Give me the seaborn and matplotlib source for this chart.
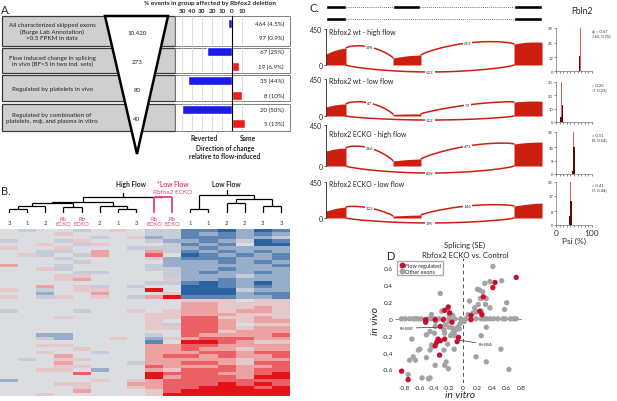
import numpy as np
import pandas as pd
import matplotlib
matplotlib.use("Agg")
import matplotlib.pyplot as plt
import seaborn as sns
from matplotlib.patches import Rectangle, Polygon
from matplotlib.colors import LinearSegmentedColormap
from matplotlib.lines import Line2D

sns.set_theme(style="white")
plt.rcParams['font.family'] = ['Lato', 'DejaVu Sans']

# ------------------------------------------------------------------ data
# Panel A
row_texts = ["All characterized skipped exons\n(Burge Lab Annotation)\n>0.5 FPKM in data",
             "Flow induced change in splicing\nin vivo (BF>5 in two ind. sets)",
             "Regulated by platelets in vivo",
             "Regulated by combination of\nplatelets, m\u03d5, and plasma in vitro"]
group_sizes = ["10,420", "273", "80", "40"]
reverted_pct = [4.5, 25, 44, 50]
same_pct = [0.9, 6.9, 10, 13]
reverted_n = [464, 67, 35, 20]
same_n = [97, 19, 8, 5]
pct_ticks = [-50, -40, -30, -20, -10, 0, 10]
pct_tick_labels = ["50", "40", "30", "20", "10", "0", "10"]

# Panel B
col_labels = ["3", "1", "2", "Rb\nECKO", "Rb\nECKO", "2", "1", "3",
              "Rb\nECKO", "Rb\nECKO", "1", "1", "2", "2", "3", "3"]
# merges: (left node, right node, height); new nodes numbered from 16
dendro_merges = [(0, 1, 4), (16, 2, 7), (3, 4, 6), (17, 18, 10), (6, 7, 4), (5, 20, 7),
                 (19, 21, 11), (8, 9, 16), (22, 23, 16), (10, 11, 4), (12, 13, 10),
                 (14, 15, 7), (26, 27, 14), (25, 28, 18)]
dendro_pink_nodes = [23]
dendro_stub_top = {24: 20, 29: 23}
heat_levels = [
    [0, -1, 0, 0, -1, 0, 1, 0, -1, -1, -3, -3, -4, -2, -4, -3],
    [0, 0, 0, 1, 0, 0, 0, 0, -1, -1, -3, -2, -3, -2, -3, -2],
    [0, 0, 0, 0, 0, -1, 0, 1, -2, -1, -3, -3, -3, -2, -2, -1],
    [-1, 0, 0, -1, 1, 0, 0, 0, -1, -2, -2, -3, -2, -1, -4, -3],
    [0, 0, 1, 0, -1, 1, 0, 0, 0, -1, -3, -2, -3, 0, -4, -4],
    [1, 0, 0, 1, 0, 0, 0, -1, -1, -1, -2, -3, -2, -2, -2, -2],
    [0, 0, -1, -1, 0, 2, 0, 0, 2, -1, -3, -2, -3, -2, -3, -2],
    [0, 1, -1, 0, -1, 2, 0, 0, 3, 0, -4, -3, -2, -3, -2, -3],
    [0, 0, 0, -1, 0, 0, 0, 0, 1, -2, -3, -3, -3, -2, -2, -3],
    [0, 0, 0, 0, -1, 0, 0, 0, 0, -2, -2, -2, -3, -2, -3, -2],
    [2, 0, 0, -1, 0, 0, 0, 0, -1, -2, -2, -2, -2, -2, -2, -3],
    [0, 0, 1, -1, 0, 0, 0, 0, -1, -1, -2, -2, -3, -2, -2, -2],
    [0, 0, 0, 0, -1, -1, 0, 0, 0, -1, -2, -3, -2, -2, -3, -2],
    [0, 0, 0, 1, 1, 0, 0, 0, 0, -1, -2, -2, -2, -1, -2, -2],
    [0, 0, 0, 1, 2, 0, 0, 0, 0, 1, -2, -2, -3, -2, -2, -2],
    [0, 0, 0, 0, 0, 0, 0, 0, -1, -1, -3, -4, -3, -2, -4, -2],
    [0, 0, 2, 0, 1, -1, 0, -1, 0, 0, -4, -4, -3, -2, -3, -2],
    [1, 0, -1, 0, 1, 1, 0, 0, 4, 0, -4, -4, -4, -1, -2, -2],
    [0, 0, -2, 0, 0, 2, 0, 0, 0, 1, -4, -4, -4, -2, -3, -3],
    [1, 0, -1, 1, 0, 1, 0, -1, 2, 4, -3, -3, -3, -2, -2, -3],
    [0, 0, 0, 0, 0, 0, 0, 0, 0, 0, 1, 1, 1, 0, 1, 1],
    [0, 0, 0, 0, 0, 0, 0, 0, 0, 0, 2, 2, 1, 1, 1, 1],
    [0, 0, 0, 0, 0, 0, 0, 0, 0, 0, 2, 2, 1, 1, 2, 1],
    [-1, 0, 0, 0, -1, 0, 0, 1, 0, 1, 2, 2, 1, 2, 2, 1],
    [0, 0, 0, 0, 0, 0, 0, 0, 1, 1, 2, 2, 2, 1, 1, 1],
    [0, 0, 0, 1, 0, 0, 0, 0, 1, 1, 3, 3, 1, 1, 2, 1],
    [0, 0, 0, 0, 0, 0, 0, 0, 1, 0, 3, 3, 2, 1, 2, 2],
    [0, 0, 0, 0, 0, 0, 0, 0, 1, -1, 3, 3, 2, 0, 1, 1],
    [0, 0, 0, 0, 0, 0, 0, 0, 1, 1, 3, 3, 2, 1, 2, 2],
    [0, 0, 0, 0, 0, 0, 0, 0, 0, 0, 3, 3, 1, 2, 2, 2],
    [0, 0, -2, -2, 0, 0, 0, 0, -1, 0, 3, 2, 2, 2, 2, 3],
    [0, 0, -1, -2, 0, 0, 1, 0, -2, 1, 2, 3, 3, 3, 2, 2],
    [0, 0, 0, 0, 0, 0, 0, 0, -3, 0, 4, 4, 3, 2, 1, 1],
    [0, 0, 1, 1, 0, 0, 0, 0, 2, 2, 3, 3, 2, 2, 2, 2],
    [0, 0, 0, 0, 1, 0, 0, 0, 2, 2, 3, 2, 2, 1, 2, 2],
    [0, 0, 1, 0, 0, -1, 0, 0, 2, 2, 2, 3, 3, 2, 3, 3],
    [0, 0, 0, 2, 0, 0, 0, 0, 2, 3, 3, 2, 3, 2, 2, 3],
    [0, -1, 0, 1, 1, 0, 0, 0, 2, 2, 2, 2, 2, 1, 2, 2],
    [0, 0, 0, 2, 0, 0, 0, -1, 2, 2, 3, 3, 2, 1, 3, 3],
    [0, 0, 0, 1, 1, 0, 0, 0, 3, 2, 2, 2, 3, 2, 2, 3],
    [0, 0, 1, 1, 0, -2, 0, 0, 2, 1, 3, 3, 3, 2, 3, 3],
    [0, 0, 0, 0, 3, 0, 0, 0, 4, 3, 3, 3, 2, 2, 3, 4],
    [0, 0, 0, 0, 0, 0, 0, 0, 4, 2, 3, 3, 3, 2, 4, 4],
    [-2, 0, 0, 0, 0, 1, 0, 1, 2, 3, 3, 3, 3, 3, 3, 3],
    [0, 0, 0, 1, 1, 0, 0, 2, 2, 3, 3, 3, 4, 3, 4, 3],
    [0, 0, 0, 0, 1, 0, 0, 1, 2, 3, 3, 4, 4, 4, 3, 4],
    [0, 0, 0, 0, 2, 0, 0, 0, 1, 3, 4, 4, 4, 4, 4, 4],
    [0, 0, 1, 0, 0, 0, 0, 0, 1, 4, 4, 4, 4, 4, 4, 4],
]

# Panel C
iso_exons = [[(0, 20), (67, 94), (188, 216)], [(0, 20), (188, 216)]]
cov_exons = [(0, 20), (67, 95), (188, 216)]
sample_names = ["Rbfox2 wt - high flow", "Rbfox2 wt - low flow",
                "Rbfox2 ECKO - high flow", "Rbfox2 ECKO - low flow"]
cov_e1 = [[137, 160, 180, 195, 205, 212], [110, 122, 133, 140, 145, 146],
          [165, 175, 185, 192, 196, 198], [87, 100, 115, 125, 132, 137]]
cov_e2 = [[87, 100, 110, 118, 122, 125], [20, 22, 24, 25, 26, 26],
          [55, 62, 68, 72, 75, 77], [25, 28, 31, 34, 36, 37]]
cov_e3 = [[262, 275, 283, 287, 287, 285], [170, 175, 180, 182, 182, 180],
          [241, 250, 256, 260, 263, 262], [150, 160, 170, 178, 184, 187]]
junc_12 = [398, 47, 366, 122]
junc_23 = [619, 70, 472, 146]
junc_13 = [523, 522, 809, 395]
arc12_peak = [225, 158, 197, 125]
arc23_peak = [275, 134, 219, 150]
arc13_trough = [-87, -49, -77, -62]
psi_text = ["\u03c8 = 0.67\n[0.65, 0.70]", "\u03c8 = 0.20\n[0.17, 0.23]",
            "\u03c8 = 0.51\n[0.49, 0.54]", "\u03c8 = 0.41\n[0.37, 0.44]"]
hist_yticks = [[0, 12, 25, 38], [0, 10, 20, 30], [0, 9, 18, 28], [0, 8, 17, 25]]
light_psi = [67, 17, 49, 41]
light_count = [38, 30, 28, 25]
dark_psi = [[64, 67], [14, 18], [46, 49], [38, 42]]
dark_count = [[3, 10], [4, 13], [2, 18], [5, 14]]

# Panel D
flow_x = [0.73, 0.44, 0.41, 0.28, 0.23, 0.26, 0.11, 0.11, -0.20, -0.25, -0.18, -0.15, -0.27,
          -0.38, -0.51, -0.51, -0.31, -0.06, -0.08, -0.34, -0.31, -0.36, -0.25, -0.38, -0.32,
          -0.84, -0.75]
flow_y = [0.49, 0.43, 0.37, 0.26, 0.09, 0.05, 0.04, -0.01, 0.14, 0.10, 0.07, -0.04, -0.01,
          -0.01, -0.01, -0.04, -0.09, -0.22, -0.27, -0.24, -0.26, -0.28, -0.24, -0.32, -0.43,
          -0.62, -0.72]
other_x = [-0.84, -0.79, -0.73, -0.68, -0.65, -0.61, -0.57, -0.47, -0.43, -0.38, -0.33, -0.26,
           -0.19, -0.11, -0.03, 0.04, 0.11, 0.18, 0.25, 0.29, 0.32, 0.37, 0.42, 0.48, 0.55,
           0.58, 0.65, 0.70, 0.73,
           0.41, 0.53, 0.37, 0.30, 0.20, 0.23, 0.27, 0.24, 0.32, 0.09, 0.31, 0.21, 0.37, 0.16,
           0.60, 0.57, 0.18, 0.25, 0.14, 0.07,
           -0.31, -0.21, -0.19, -0.29, -0.14, -0.43,
           -0.70, -0.73, -0.65, -0.61, -0.59, -0.68, -0.50, -0.50, -0.45, -0.39, -0.38, -0.37,
           -0.43, -0.45, -0.42, -0.38, -0.23, -0.25, -0.20, -0.45, -0.56, -0.47, -0.75, -0.26,
           -0.12, -0.21, -0.25, -0.26, -0.19, -0.14, -0.12, -0.14, -0.10, -0.07, -0.05, -0.17,
           -0.11, -0.04, -0.01, 0.02, -0.19, -0.24,
           0.18, 0.32, 0.52, 0.63, 0.25, 0.32]
other_y = [0.0, 0.0, 0.0, 0.0, 0.0, 0.0, 0.0, 0.0, 0.0, 0.0, 0.0, 0.0,
           0.0, 0.0, 0.0, 0.0, 0.0, 0.0, 0.0, 0.0, 0.0, 0.0, 0.0, 0.0, 0.0,
           0.0, 0.0, 0.0, 0.0,
           0.62, 0.45, 0.44, 0.42, 0.35, 0.34, 0.32, 0.24, 0.24, 0.21, 0.17, 0.17, 0.13, 0.13,
           0.19, 0.11, 0.08, 0.09, 0.07, 0.05,
           0.30, 0.11, 0.05, 0.09, 0.04, 0.05,
           -0.24, -0.49, -0.49, -0.37, -0.36, -0.45, -0.46, -0.19, -0.15, -0.17, -0.09, -0.03,
           -0.31, -0.37, -0.33, -0.55, -0.51, -0.55, -0.59, -0.70, -0.70, -0.71, -0.66, -0.37,
           -0.36, -0.30, -0.17, -0.13, -0.10, -0.11, -0.15, -0.17, -0.13, -0.10, -0.12, -0.20,
           -0.20, -0.06, -0.03, -0.03, -0.03, -0.07,
           -0.45, -0.51, -0.36, -0.60, -0.20, -0.10]
d_ticks = [-0.8, -0.6, -0.4, -0.2, 0, 0.2, 0.4, 0.6, 0.8]
d_yticks = [-0.6, -0.4, -0.2, 0, 0.2, 0.4, 0.6]

# ------------------------------------------------------------------ figure
W, H = 617, 402
fig = plt.figure(figsize=(W / 100, H / 100), dpi=100)
fig.patch.set_facecolor('white')


def px_axes(x, y, w, h):
    return fig.add_axes([x / W, 1 - (y + h) / H, w / W, h / H])


ov = px_axes(0, 0, W, H)
ov.set_xlim(0, W)
ov.set_ylim(H, 0)
ov.axis('off')

BLUE = '#1c1ce8'
RED = '#ee1c1c'
PINK = '#e4417a'

# ---------------- Panel A
ov.text(1, 10, "A.", fontsize=8, va='center', ha='left')
row_spans = [(17, 47), (49, 74), (76, 102), (105, 132)]
for (y0, y1), txt, gs in zip(row_spans, row_texts, group_sizes):
    ov.add_patch(Rectangle((2, y0), 173, y1 - y0, fc='#cfcfcf', ec='#3a3a3a', lw=0.9, zorder=1))
    ov.add_patch(Rectangle((175, y0), 115, y1 - y0, fc='white', ec='#6a6a6a', lw=0.6, zorder=1))
    ov.text(52, (y0 + y1) / 2, txt, ha='center', va='center', fontsize=4.5,
            linespacing=1.35, zorder=2, color='#222222')
ov.add_patch(Polygon([(105, 17), (168, 17), (137, 155)], closed=True, fc='white',
                     ec='black', lw=1.8, zorder=3))
for (y0, y1), gs in zip(row_spans, group_sizes):
    ov.text(137, (y0 + y1) / 2 + 1, gs, ha='center', va='center', fontsize=4.5, zorder=4,
            color='#222222')

bar_top, bar_h = 17, 115
axb = px_axes(177, bar_top, 73, bar_h)
axb.patch.set_alpha(0)
slots, vals, dirs = [], [], []
for i in range(4):
    slots += [f"r{i}", f"s{i}"]
    vals += [-reverted_pct[i], same_pct[i]]
    dirs += ["Reverted", "Same"]
bar_df = pd.DataFrame({"slot": slots, "value": vals, "direction": dirs})
sns.barplot(data=bar_df, x="value", y="slot", hue="direction",
            palette={"Reverted": BLUE, "Same": RED}, orient="h", dodge=False,
            width=0.62, ax=axb, legend=False, saturation=1)
axb.set_xlim(-55, 18)
axb.set_ylim(7.5, -0.5)
axb.set_xticks(pct_ticks)
axb.set_xticklabels(pct_tick_labels, fontsize=4.6, fontweight='bold')
axb.tick_params(axis='x', top=False, bottom=False, labeltop=True, labelbottom=False,
                length=0, pad=2)
axb.set_yticks([])
axb.set_xlabel('')
axb.set_ylabel('')
axb.xaxis.grid(True, color='#cfcfcf', lw=0.5)
axb.set_axisbelow(True)
axb.axvline(0, color='black', lw=0.8)
for s in axb.spines.values():
    s.set_visible(False)

slot_h = bar_h / 8
for i in range(4):
    yr = bar_top + (2 * i + 0.5) * slot_h
    ys = bar_top + (2 * i + 1.5) * slot_h
    ov.text(284, yr, f"{reverted_n[i]} ({reverted_pct[i]:g}%)", ha='right', va='center',
            fontsize=4.4, zorder=4, color='#222222')
    ov.text(284, ys, f"{same_n[i]} ({same_pct[i]:g}%)", ha='right', va='center',
            fontsize=4.4, zorder=4, color='#222222')

ov.text(210, 4, "% events in group affected by Rbfox2 deletion", ha='center', va='center',
        fontsize=4.6, fontweight='bold')
ov.text(204, 139, "Reverted", ha='center', va='center', fontsize=4.8, fontweight='bold')
ov.text(248, 139, "Same", ha='center', va='center', fontsize=4.8, fontweight='bold')
ov.text(225, 149, "Direction of change", ha='center', va='center', fontsize=4.8,
        fontweight='bold')
ov.text(225, 157, "relative to flow-induced", ha='center', va='center', fontsize=4.8,
        fontweight='bold')

# ---------------- Panel B
ov.text(1, 192, "B.", fontsize=8, va='center', ha='left')
hm_x, hm_y, hm_w, hm_h = 0, 230, 290, 167
ncol = len(col_labels)
axd = px_axes(hm_x, 186, hm_w, 28)
axd.set_xlim(0, ncol)
axd.set_ylim(0, 28)
axd.axis('off')
node_x = {i: i + 0.5 for i in range(ncol)}
node_h = {i: 0 for i in range(ncol)}
for k, (a, b, h) in enumerate(dendro_merges):
    nid = ncol + k
    node_x[nid] = (node_x[a] + node_x[b]) / 2
    node_h[nid] = h
    is_pink = nid in dendro_pink_nodes
    col = PINK if is_pink else 'black'
    lw = 1.3 if is_pink else 0.9
    z = 3 if is_pink else 2
    for c in (a, b):
        axd.plot([node_x[c], node_x[c]], [node_h[c], h], color=col, lw=lw, zorder=z,
                 solid_capstyle='butt')
    axd.plot([node_x[a], node_x[b]], [h, h], color=col, lw=lw, zorder=z,
             solid_capstyle='butt')
for nid, top in dendro_stub_top.items():
    axd.plot([node_x[nid], node_x[nid]], [node_h[nid], top], color='black', lw=0.9)

col_w = hm_w / ncol
for c, lab in enumerate(col_labels):
    colr = PINK if 'ECKO' in lab else '#333333'
    ov.text(hm_x + (c + 0.5) * col_w, 222 if 'ECKO' in lab else 224, lab, ha='center',
            va='center', fontsize=4.2, color=colr, linespacing=1.1)
ov.text(131, 185, "High Flow", ha='center', va='center', fontsize=4.8, fontweight='bold')
ov.text(173, 185, "*Low Flow", ha='center', va='center', fontsize=4.8, fontweight='bold',
        color=PINK)
ov.text(173, 193, "Rbfox2 ECKO", ha='center', va='center', fontsize=4.6, color=PINK)
ov.text(226, 185, "Low Flow", ha='center', va='center', fontsize=4.8, fontweight='bold')

axh = px_axes(hm_x, hm_y, hm_w, hm_h)
cmap = LinearSegmentedColormap.from_list("bgr", [
    (0.0, '#2c62a0'), (0.125, '#5d86b6'), (0.25, '#97adc9'), (0.375, '#c6cdd8'),
    (0.5, '#dcdde0'), (0.625, '#e5c9ca'), (0.75, '#eca3a4'), (0.875, '#ea6266'),
    (1.0, '#e6121a')])
sns.heatmap(np.array(heat_levels), cmap=cmap, vmin=-4, vmax=4, cbar=False,
            xticklabels=False, yticklabels=False, ax=axh)

# ---------------- Panel C
ov.text(309, 8, "C.", fontsize=8, va='center', ha='left')
ov.text(582, 12, "Fbln2", fontsize=6.2, ha='center', va='center')
CX0, CW = 326, 216
axg = px_axes(CX0, 2, CW, 24)
axg.set_xlim(0, 216)
axg.set_ylim(26, 2)
axg.axis('off')
for exons, yrow in zip(iso_exons, [8, 20]):
    axg.broken_barh([(s, e - s) for s, e in exons], (yrow - 2.0, 4.0), facecolors='black')
    for (s0, e0), (s1, e1) in zip(exons[:-1], exons[1:]):
        axg.plot([e0, s1], [yrow, yrow], ls=(0, (1, 1.5)), lw=0.6, color='#444444')

SASH_RED = '#cc1f0f'
sash_px = [(30, 66), (80, 117), (126, 167), (183, 219)]
title_y = [33, 82, 135, 185]
YLO = -110


def arc(x0, y0, x1, y1, peak, n=80):
    t = np.linspace(0, 1, n)
    base = y0 + (y1 - y0) * t
    return x0 + (x1 - x0) * t, base + (peak - (y0 + y1) / 2) * np.sin(np.pi * t) ** 0.7


for i in range(4):
    y450, y0 = sash_px[i]
    ppu = (y0 - y450) / 450.0
    ybot = y0 - YLO * ppu
    ax = px_axes(CX0, y450, CW, ybot - y450)
    ax.patch.set_alpha(0)
    ax.set_xlim(0, 216)
    ax.set_ylim(YLO, 450)
    covs = [cov_e1[i], cov_e2[i], cov_e3[i]]
    for (s, e), cv in zip(cov_exons, covs):
        xs = np.linspace(s, e, len(cv))
        ax.fill_between(xs, 0, cv, color=SASH_RED, lw=0)
    e1, e2, e3 = cov_exons
    c1, c2, c3 = covs
    xa, ya = arc(e1[1], c1[-1], e2[0], c2[0], arc12_peak[i])
    ax.plot(xa, ya, color=SASH_RED, lw=1.1)
    ax.text((e1[1] + e2[0]) / 2, arc12_peak[i], str(junc_12[i]), fontsize=3.2, ha='center',
            va='center', bbox=dict(fc='white', ec='none', pad=0.6), color='#333333')
    xa, ya = arc(e2[1], c2[-1], e3[0], c3[0], arc23_peak[i])
    ax.plot(xa, ya, color=SASH_RED, lw=1.1)
    ax.text((e2[1] + e3[0]) / 2, arc23_peak[i], str(junc_23[i]), fontsize=3.2, ha='center',
            va='center', bbox=dict(fc='white', ec='none', pad=0.6), color='#333333')
    xa, ya = arc(e1[1], 0, e3[0], 0, arc13_trough[i])
    ax.plot(xa, ya, color=SASH_RED, lw=1.1)
    ax.text((e1[1] + e3[0]) / 2, arc13_trough[i], str(junc_13[i]), fontsize=3.2,
            ha='center', va='center', bbox=dict(fc='white', ec='none', pad=0.6),
            color='#333333')
    for side in ['top', 'right', 'bottom']:
        ax.spines[side].set_visible(False)
    ax.spines['left'].set_bounds(0, 450)
    ax.spines['left'].set_color('#222222')
    ax.spines['left'].set_linewidth(0.6)
    ax.set_yticks([0, 450])
    ax.set_yticklabels(["0", "450"], fontsize=5)
    ax.tick_params(axis='y', left=True, length=1.5, width=0.5, pad=1)
    ax.set_xticks([])
    ov.text(329, title_y[i], sample_names[i], fontsize=5, ha='left', va='center',
            color='#222222')

hist_px = [(29, 72), (83, 123), (133, 175), (183, 226)]
for i in range(4):
    yt, yb = hist_px[i]
    axx = px_axes(556, yt, 36, yb - yt)
    sns.histplot(x=[light_psi[i]], weights=[light_count[i]], binwidth=3, binrange=(0, 102),
                 color='#e05a5a', alpha=1, lw=0, ax=axx)
    sns.histplot(x=dark_psi[i], weights=dark_count[i], binwidth=4, binrange=(0, 104),
                 color='#5a0808', alpha=1, lw=0, ax=axx)
    axx.set_xlim(0, 100)
    axx.set_ylim(0, hist_yticks[i][-1])
    axx.set_yticks(hist_yticks[i])
    axx.set_yticklabels([str(v) for v in hist_yticks[i]], fontsize=3)
    axx.set_xticks(np.arange(0, 101, 10))
    if i == 3:
        axx.set_xticklabels(["0", "", "", "", "", "", "", "", "", "", "100"], fontsize=6)
    else:
        axx.set_xticklabels([])
    axx.tick_params(axis='both', length=1.2, width=0.4, pad=1, left=True, bottom=True,
                    colors='#333333')
    axx.tick_params(axis='x', pad=1.5)
    axx.set_xlabel('')
    axx.set_ylabel('')
    for side in ['top', 'right']:
        axx.spines[side].set_visible(False)
    for side in ['left', 'bottom']:
        axx.spines[side].set_linewidth(0.4)
        axx.spines[side].set_color('#555555')
    ov.text(600 if i == 0 else 596, yt + 5, psi_text[i], fontsize=2.9, ha='center',
            va='center', linespacing=1.2, color='#333333')
ov.text(574, 241, "Psi (%)", fontsize=6, ha='center', va='center')

# ---------------- Panel D
ov.text(387, 256, "D.", fontsize=8, va='center', ha='left')
ov.text(465, 245, "Splicing (SE)", fontsize=5.6, ha='center', va='center')
ov.text(465, 256, "Rbfox2 ECKO vs. Control", fontsize=5.6, ha='center', va='center')
axs = px_axes(395, 259, 130, 125)
sc_df = pd.DataFrame({
    "in_vitro": other_x + flow_x,
    "in_vivo": other_y + flow_y,
    "group": ["Other exons"] * len(other_x) + ["Flow regulated"] * len(flow_x)})
axs.axvline(0, color='#555555', lw=0.7, ls=(0, (4, 3)), zorder=0)
axs.axhline(0, color='#888888', lw=0.7, ls=(0, (4, 3)), zorder=0)
sns.scatterplot(data=sc_df, x="in_vitro", y="in_vivo", hue="group",
                palette={"Other exons": '#a3a3a3', "Flow regulated": '#c8102e'},
                s=15, linewidth=0, legend=False, ax=axs, zorder=2)
axs.set_xlim(-0.93, 0.85)
axs.set_ylim(-0.76, 0.72)
axs.set_xticks(d_ticks)
axs.set_xticklabels([f"{v:g}" for v in d_ticks], fontsize=4.6)
axs.set_yticks(d_yticks)
axs.set_yticklabels([f"{v:g}" for v in d_yticks], fontsize=4.6)
axs.tick_params(length=0, pad=1.5)
for s in axs.spines.values():
    s.set_visible(False)
axs.set_xlabel("in vitro", fontsize=7.5, style='italic', labelpad=0)
axs.set_ylabel("in vivo", fontsize=7.5, style='italic', labelpad=1)
handles = [Line2D([], [], marker='o', ls='', color='#c8102e', markersize=3.2,
                  label='Flow regulated'),
           Line2D([], [], marker='o', ls='', color='#a3a3a3', markersize=3.2,
                  label='Other exons')]
axs.legend(handles=handles, loc='upper left', bbox_to_anchor=(0.01, 0.985), fontsize=4,
           frameon=True, edgecolor='#999999', fancybox=False, handletextpad=0.1,
           borderpad=0.3, labelspacing=0.2, handlelength=1.0, borderaxespad=0.2)
axs.annotate("FN-EIIIB", xy=(-0.33, -0.10), xytext=(-0.87, -0.11), fontsize=2.8,
             style='italic', va='center', ha='left',
             arrowprops=dict(arrowstyle='-', lw=0.5, color='#333333', shrinkA=0, shrinkB=1))
axs.annotate("FN-EIIIA", xy=(-0.08, -0.25), xytext=(0.22, -0.30), fontsize=2.8,
             style='italic', va='center', ha='left',
             arrowprops=dict(arrowstyle='-', lw=0.5, color='#333333', shrinkA=0, shrinkB=1))

fig.savefig("out.png", dpi=100, facecolor='white')
